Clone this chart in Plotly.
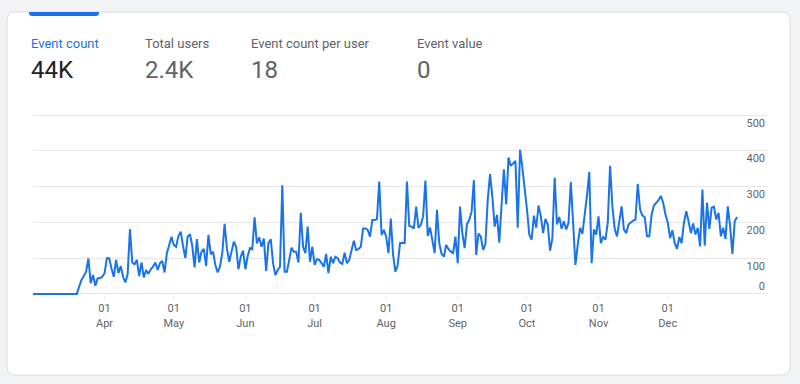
import pandas as pd
import plotly.graph_objects as go

# ---------------- data ----------------
start_date = "2023-03-01"
lead_zeros = [0] * 20
seg_mar_jun = [20, 39, 50, 62, 99, 30, 53, 23, 44, 44,
               48, 58, 100, 100, 72, 48, 95, 58, 78, 48,
               32, 55, 181, 88, 83, 95, 50, 88, 46, 67,
               56, 69, 76, 88, 67, 86, 92, 60, 114, 137,
               160, 137, 132, 162, 174, 134, 100, 160, 167, 134,
               74, 153, 88, 118, 126, 78, 165, 111, 118, 81,
               60, 76, 115, 196, 128, 90, 118, 146, 132, 69,
               104, 121, 69, 106, 128, 125, 214, 141, 158, 132,
               155, 64]
seg_jun_sep = [142, 153, 86, 53, 67, 76, 304, 62, 62, 95,
               129, 118, 118, 88, 227, 132, 114, 188, 90, 132,
               81, 97, 95, 86, 76, 112, 58, 104, 86, 104,
               100, 88, 84, 115, 86, 95, 123, 149, 123, 125,
               132, 183, 183, 179, 160, 207, 207, 209, 314, 165,
               179, 160, 114, 211, 109, 62, 81, 142, 143, 142,
               314, 190, 188, 183, 244, 185, 193, 216, 317, 162,
               186, 151, 114, 235, 142, 112, 104, 137, 125, 118,
               114, 160, 86, 244, 169, 128, 195, 207, 230, 318,
               109, 169, 160, 123, 140, 263, 335, 272, 188, 221,
               143]
seg_sep_nov = [250, 348, 250, 381, 358, 365, 372, 185, 403, 353,
               302, 236, 166, 152, 219, 185, 247, 217, 170, 210,
               194, 121, 156, 325, 194, 215, 182, 203, 180, 199,
               313, 213, 81, 138, 185, 168, 217, 275, 341, 86,
               180, 166, 217, 142, 159, 152, 199, 358, 245, 182,
               161, 203, 245]
seg_nov_dec = [180, 170, 194, 200, 205, 208, 308, 236, 219, 215,
               161, 161, 222, 247, 255, 262, 274, 255, 222, 199,
               156, 178, 142, 126, 159, 142, 199, 231, 203, 170,
               197, 166, 185, 133, 292, 135, 255, 182, 241, 244,
               208, 227, 161, 185, 154, 245, 189, 112, 203, 215]

event_count = lead_zeros + seg_mar_jun + seg_jun_sep + seg_sep_nov + seg_nov_dec
dates = pd.date_range(start_date, periods=len(event_count), freq="D")

month_ticks = ["2023-04-01", "2023-05-01", "2023-06-01", "2023-07-01", "2023-08-01",
               "2023-09-01", "2023-10-01", "2023-11-01", "2023-12-01"]
y_ticks = [0, 100, 200, 300, 400, 500]

metric_names = ["Event count", "Total users", "Event count per user", "Event value"]
metric_values = ["44K", "2.4K", "18", "0"]

# ---------------- layout helpers ----------------
W, H = 800, 384
L, R, T, B = 33, 32, 114, 89
PW, PH = W - L - R, H - T - B
Y_RANGE = [-3, 503]


def px(x):
    return (x - L) / PW


def py(y):
    return (H - B - y) / PH


def rounded_rect(x0, y0, x1, y1, r_tl, r_tr, r_br, r_bl):
    def P(x, y):
        return f"{px(x):.5f},{py(y):.5f}"
    d = f"M {P(x0 + r_tl, y0)} L {P(x1 - r_tr, y0)} "
    d += f"Q {P(x1, y0)} {P(x1, y0 + r_tr)} " if r_tr else ""
    d += f"L {P(x1, y1 - r_br)} "
    d += f"Q {P(x1, y1)} {P(x1 - r_br, y1)} " if r_br else ""
    d += f"L {P(x0 + r_bl, y1)} "
    d += f"Q {P(x0, y1)} {P(x0, y1 - r_bl)} " if r_bl else ""
    d += f"L {P(x0, y0 + r_tl)} "
    d += f"Q {P(x0, y0)} {P(x0 + r_tl, y0)} " if r_tl else ""
    return d + "Z"


BLUE = "#1a73e8"
GREY = "#5f6368"
FONT = "Roboto"

fig = go.Figure()
fig.add_trace(go.Scatter(x=dates, y=event_count, mode="lines",
                         line=dict(color=BLUE, width=2), hoverinfo="skip",
                         showlegend=False))
# invisible trace to activate overlay axis for the "0" label
fig.add_trace(go.Scatter(x=[dates[0]], y=[0], yaxis="y2", mode="markers",
                         marker=dict(opacity=0), hoverinfo="skip", showlegend=False))

shapes = [
    dict(type="path", xref="paper", yref="paper", layer="below",
         path=rounded_rect(7, 12, 790, 375, 8, 8, 8, 8),
         fillcolor="white", line=dict(color="#dadce0", width=1)),
    dict(type="path", xref="paper", yref="paper", layer="above",
         path=rounded_rect(29, 12, 99, 16, 0, 0, 3, 3),
         fillcolor=BLUE, line=dict(width=0)),
]

annotations = []
label_x = [29, 143, 249, 415]
for i, (name, val) in enumerate(zip(metric_names, metric_values)):
    annotations.append(dict(xref="paper", yref="paper", x=px(label_x[i]), y=py(43),
                            text=name, showarrow=False, xanchor="left", yanchor="middle",
                            font=dict(family=FONT, size=13, color=BLUE if i == 0 else GREY)))
    annotations.append(dict(xref="paper", yref="paper", x=px(label_x[i]), y=py(70),
                            text=val, showarrow=False, xanchor="left", yanchor="middle",
                            font=dict(family=FONT, size=24, color="#202124" if i == 0 else GREY)))

fig.update_layout(
    width=W, height=H,
    margin=dict(l=L, r=R, t=T, b=B),
    paper_bgcolor="#f1f3f4",
    plot_bgcolor="rgba(0,0,0,0)",
    font=dict(family=FONT, color=GREY, size=11),
    shapes=shapes,
    annotations=annotations,
    xaxis=dict(
        type="date",
        range=["2023-03-01", "2024-01-13 10:00"],
        tickvals=month_ticks,
        tickformat="%d<br>%b",
        showgrid=False, zeroline=False, showline=False,
        ticks="outside", ticklen=3, tickcolor="#e6e6e6",
        tickfont=dict(family=FONT, size=11, color=GREY),
    ),
    yaxis=dict(
        range=Y_RANGE, side="right",
        tickvals=y_ticks,
        ticktext=[""] + [str(v) for v in y_ticks[1:]],
        ticklabelposition="inside bottom",
        showgrid=True, gridcolor="#e6e6e6", gridwidth=1,
        zeroline=False, showline=False, ticks="",
        tickfont=dict(family=FONT, size=11, color=GREY),
    ),
    yaxis2=dict(
        range=Y_RANGE, side="right", overlaying="y",
        tickvals=[0], ticktext=["0"],
        ticklabelposition="inside top",
        showgrid=False, zeroline=False, showline=False, ticks="",
        tickfont=dict(family=FONT, size=11, color=GREY),
    ),
    hovermode=False,
)

fig.write_html("out.html", config={"displayModeBar": False},
               post_script="document.body.style.margin='0';document.body.style.overflow='hidden';")
